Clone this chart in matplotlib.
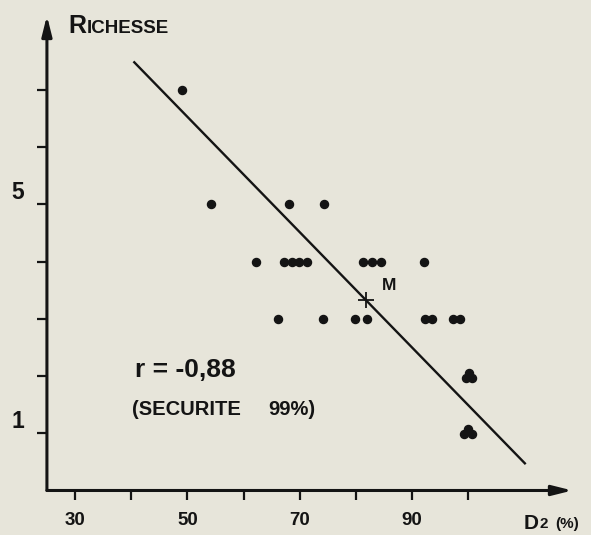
import matplotlib.pyplot as plt

# richesse vs D2 (%)
d2_r7 = [49.1]
d2_r5 = [54.2, 68.1, 74.3]
d2_r4 = [62.2, 67.2, 68.6, 69.9, 71.3, 81.3, 82.8, 84.4, 92.1]
d2_r3 = [66.2, 74.2, 79.9, 82.0, 92.3, 93.5, 97.2, 98.5]
# the two piles of three dots at D2 = 100
pile2_x = [100.1, 99.5, 100.7]
pile2_y = [2.05, 1.96, 1.96]
pile1_x = [100.0, 99.3, 100.6]
pile1_y = [1.07, 0.98, 0.98]

mean_pt = (81.8, 3.33)
line_x = [40.4, 110.2]
line_y = [7.5, 0.46]

xticks = [30, 40, 50, 60, 70, 80, 90, 100]
xlabels = ['30', '', '50', '', '70', '', '90', '']
yticks = [1, 2, 3, 4, 5, 6, 7]
ylabels = ['1', '', '', '', '5', '', '']

bg = '#e7e5da'
ink = '#141414'
plt.rcParams['font.family'] = ['Liberation Sans', 'DejaVu Sans']
plt.rcParams['font.weight'] = 'bold'

fig = plt.figure(figsize=(5.91, 5.35), dpi=100, facecolor=bg)
ax = fig.add_axes([0.0794, 0.0832, 0.889, 0.8875])
ax.set_facecolor(bg)
ax.set_xlim(25, 118.5)
ax.set_ylim(0, 8.3)

for s in ax.spines.values():
    s.set_visible(False)

# axes drawn as arrows
arr = dict(arrowstyle='-|>,head_length=1.2,head_width=0.3', color=ink, lw=2.2,
           shrinkA=0, shrinkB=0)
ax.annotate('', xy=(0, 1), xytext=(0, 0), xycoords='axes fraction', arrowprops=arr)
ax.annotate('', xy=(1, 0), xytext=(0, 0), xycoords='axes fraction', arrowprops=arr)

ax.set_xticks(xticks)
ax.set_xticklabels(xlabels)
ax.set_yticks(yticks)
ax.set_yticklabels(ylabels)
ax.tick_params(axis='both', direction='out', length=7.5, width=1.6, color=ink,
               labelcolor=ink)
ax.tick_params(axis='x', labelsize=13.5, pad=8)
ax.tick_params(axis='y', labelsize=16.5, pad=9)
for t in ax.get_yticklabels():
    t.set_va('bottom')
for t in ax.get_xticklabels() + ax.get_yticklabels():
    t.set_fontweight('bold')

# regression line and mean point
ax.plot(line_x, line_y, color=ink, lw=1.7, solid_capstyle='butt', clip_on=False)
ax.plot([mean_pt[0]], [mean_pt[1]], marker='+', ms=11, mew=1.3, color=ink)
ax.text(84.6, 3.505, 'M', fontsize=12.5, fontweight='bold', color=ink, va='baseline')

dot = dict(marker='o', ms=5.8, color=ink, ls='none', clip_on=False)
ax.plot(d2_r7, [7] * len(d2_r7), **dot)
ax.plot(d2_r5, [5] * len(d2_r5), **dot)
ax.plot(d2_r4, [4] * len(d2_r4), **dot)
ax.plot(d2_r3, [3] * len(d2_r3), **dot)
ax.plot(pile2_x, pile2_y, **dot)
ax.plot(pile1_x, pile1_y, **dot)

# labels
ax.text(28.75, 8.0, 'R', fontsize=18, fontweight='bold', color=ink, va='baseline',
        clip_on=False)
ax.text(32.0, 8.0, 'ICHESSE', fontsize=13.5, fontweight='bold', color=ink,
        va='baseline', clip_on=False)
ax.text(40.7, 1.98, 'r = -0,88', fontsize=19, fontweight='bold', color=ink,
        va='baseline')
ax.text(40.1, 1.32, '(SECURITE', fontsize=14.5, fontweight='bold', color=ink,
        va='baseline')
ax.text(64.3, 1.32, '99%)', fontsize=14.5, fontweight='bold', color=ink,
        va='baseline')
ax.text(109.8, -0.67, 'D', fontsize=15, fontweight='bold', color=ink,
        va='baseline', clip_on=False)
ax.text(112.6, -0.65, '2', fontsize=11, fontweight='bold', color=ink,
        va='baseline', clip_on=False)
ax.text(115.5, -0.65, '(%)', fontsize=11, fontweight='bold', color=ink,
        va='baseline', clip_on=False)

fig.savefig('out.png', dpi=100, facecolor=bg)
